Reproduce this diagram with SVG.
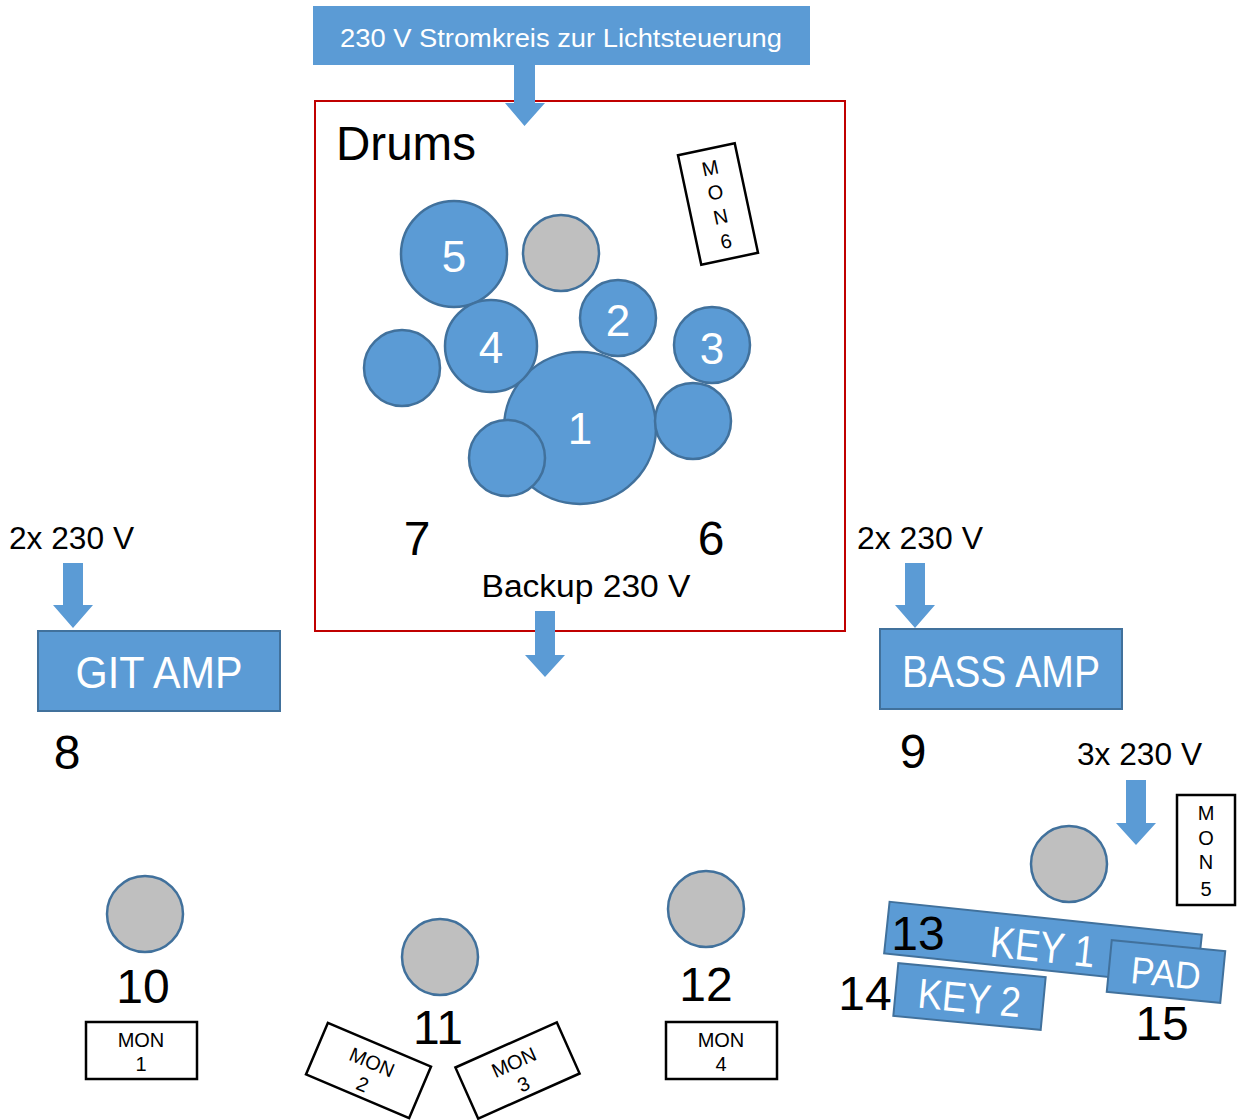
<svg xmlns="http://www.w3.org/2000/svg" width="1242" height="1120" viewBox="0 0 1242 1120">
<style>
text{font-family:"Liberation Sans",Arial,sans-serif}
.drum{fill:#5b9bd5;stroke:#41719c;stroke-width:2.5}
.gray{fill:#bfbfbf;stroke:#41719c;stroke-width:2.5}
.blue{fill:#5b9bd5;stroke:#41719c;stroke-width:2}
.mon{fill:#fff;stroke:#000;stroke-width:2.5}
.arr{fill:#5b9bd5}
.w{fill:#fff}
.k{fill:#000}
.mt{font-size:20px;text-anchor:middle;fill:#000}
.num{font-size:48px;text-anchor:middle;fill:#000}
.dn{font-size:44px;text-anchor:middle;fill:#fff}
</style>
<rect width="1242" height="1120" fill="#fff"/>

<g id="power-light">
<rect x="313" y="6" width="497" height="59" fill="#5b9bd5"/>
<text x="561" y="47" font-size="26" class="w" text-anchor="middle" textLength="442" lengthAdjust="spacingAndGlyphs">230 V Stromkreis zur Lichtsteuerung</text>
</g>

<g id="drums">
<rect x="315" y="101" width="530" height="530" fill="none" stroke="#c00000" stroke-width="2"/>
<text x="336" y="160" font-size="48" class="k" textLength="140" lengthAdjust="spacingAndGlyphs">Drums</text>
<circle class="drum" cx="454" cy="254" r="53"/>
<circle class="gray" cx="561" cy="253" r="38"/>
<circle class="drum" cx="618" cy="318" r="38"/>
<circle class="drum" cx="712" cy="345" r="38"/>
<circle class="drum" cx="402" cy="368" r="38"/>
<circle class="drum" cx="580" cy="428" r="76"/>
<circle class="drum" cx="491" cy="346" r="46"/>
<circle class="drum" cx="507" cy="458" r="38"/>
<circle class="drum" cx="693" cy="421" r="38"/>
<text class="dn" x="454" y="272">5</text>
<text class="dn" x="491" y="363">4</text>
<text class="dn" x="618" y="336">2</text>
<text class="dn" x="712" y="364">3</text>
<text class="dn" x="580" y="444" font-size="40">1</text>
<text class="num" x="417" y="555">7</text>
<text class="num" x="711" y="555">6</text>
<text x="586" y="597" font-size="31" class="k" text-anchor="middle" textLength="209" lengthAdjust="spacingAndGlyphs">Backup 230 V</text>
</g>

<g id="mon6" transform="translate(718 204) rotate(-12)">
<rect class="mon" x="-29" y="-56" width="58" height="112"/>
<text class="mt" x="0" y="-30">M</text>
<text class="mt" x="0" y="-5">O</text>
<text class="mt" x="0" y="20">N</text>
<text class="mt" x="0" y="45">6</text>
</g>

<g id="git-amp">
<text x="9" y="549" font-size="32" class="k" textLength="125" lengthAdjust="spacingAndGlyphs">2x 230 V</text>
<rect class="blue" x="38" y="631" width="242" height="80"/>
<text x="159" y="688" font-size="44" class="w" text-anchor="middle" textLength="167" lengthAdjust="spacingAndGlyphs">GIT AMP</text>
<text class="num" x="67" y="769">8</text>
</g>

<g id="bass-amp">
<text x="857" y="549" font-size="32" class="k" textLength="126" lengthAdjust="spacingAndGlyphs">2x 230 V</text>
<rect class="blue" x="880" y="629" width="242" height="80"/>
<text x="1001" y="687" font-size="44" class="w" text-anchor="middle" textLength="198" lengthAdjust="spacingAndGlyphs">BASS AMP</text>
<text class="num" x="913" y="768">9</text>
</g>

<g id="keys-power">
<text x="1077" y="765" font-size="32" class="k" textLength="125" lengthAdjust="spacingAndGlyphs">3x 230 V</text>
<circle class="gray" cx="1069" cy="864" r="38"/>
</g>

<g id="mon5">
<rect class="mon" x="1177" y="795" width="58" height="110"/>
<text class="mt" x="1206" y="820">M</text>
<text class="mt" x="1206" y="845">O</text>
<text class="mt" x="1206" y="869">N</text>
<text class="mt" x="1206" y="896">5</text>
</g>

<g id="key1" transform="translate(1043 944) rotate(6)">
<rect class="blue" x="-157" y="-26" width="314" height="52"/>
<text x="0" y="18" font-size="44" class="w" text-anchor="middle" textLength="105" lengthAdjust="spacingAndGlyphs">KEY 1</text>
</g>
<text class="num" x="918" y="950">13</text>

<g id="pad" transform="translate(1166 971.5) rotate(5.5)">
<rect class="blue" x="-57" y="-26" width="114" height="52"/>
<text x="0" y="15" font-size="38" class="w" text-anchor="middle" textLength="70" lengthAdjust="spacingAndGlyphs">PAD</text>
</g>
<text class="num" x="1162" y="1040">15</text>

<g id="key2" transform="translate(969.5 996.5) rotate(5.4)">
<rect class="blue" x="-74" y="-26.5" width="148" height="53"/>
<text x="0" y="16" font-size="42" class="w" text-anchor="middle" textLength="103" lengthAdjust="spacingAndGlyphs">KEY 2</text>
</g>
<text class="num" x="865" y="1010">14</text>

<g id="pos10">
<circle class="gray" cx="145" cy="914" r="38"/>
<text class="num" x="143" y="1003">10</text>
<rect class="mon" x="86" y="1022" width="111" height="57"/>
<text class="mt" x="141" y="1047">MON</text>
<text class="mt" x="141" y="1071">1</text>
</g>

<g id="pos11">
<circle class="gray" cx="440" cy="957" r="38"/>
<text class="num" x="438" y="1044">11</text>
</g>

<g id="mon2" transform="translate(368.5 1070.5) rotate(23)">
<rect class="mon" x="-56" y="-28" width="112" height="56"/>
<text class="mt" x="0" y="-2">MON</text>
<text class="mt" x="0" y="22">2</text>
</g>

<g id="mon3" transform="translate(517.5 1070.5) rotate(-24)">
<rect class="mon" x="-55.5" y="-28" width="111" height="56"/>
<text class="mt" x="0" y="-2">MON</text>
<text class="mt" x="0" y="22">3</text>
</g>

<g id="pos12">
<circle class="gray" cx="706" cy="909" r="38"/>
<text class="num" x="706" y="1001">12</text>
<rect class="mon" x="666" y="1022" width="111" height="57"/>
<text class="mt" x="721" y="1047">MON</text>
<text class="mt" x="721" y="1071">4</text>
</g>

<g id="connectors">
<polygon class="arr" points="514,65 535,65 535,103 545,103 524.5,126 505,103 514,103"/>
<polygon class="arr" points="535,611 555,611 555,655 565,655 545,677 525,655 535,655"/>
<polygon class="arr" points="63,563 83,563 83,605 93,605 73,628 53,605 63,605"/>
<polygon class="arr" points="905,563 925,563 925,605 935,605 915,628 895,605 905,605"/>
<polygon class="arr" points="1126,780 1146,780 1146,823 1156,823 1136,845 1116,823 1126,823"/>
</g>
</svg>
